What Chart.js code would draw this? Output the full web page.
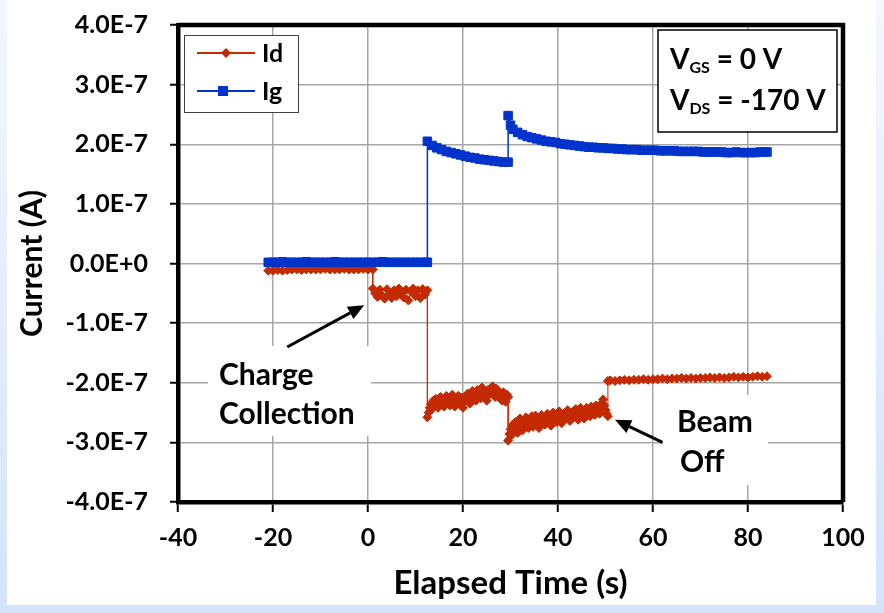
<!DOCTYPE html>
<html>
<head>
<meta charset="utf-8">
<script src="https://cdn.jsdelivr.net/npm/chart.js@4.4.0/dist/chart.umd.min.js"></script>
<style>
  html, body { margin: 0; padding: 0; }
  body { width: 884px; height: 613px; position: relative; overflow: hidden;
         background: linear-gradient(#f4f7fc, #d2e3fb); }
  #wrap { position: absolute; left: 7px; top: 0; width: 869px; height: 605px; background: #fff; }
</style>
</head>
<body>
<div id="wrap"><canvas id="myChart" width="869" height="605"></canvas></div>
<script>
const fam = 'Lato, "Open Sans", sans-serif';
const idColor = '#c42a02';
const igColor = '#0033cc';

const xTicks = [-40, -20, 0, 20, 40, 60, 80, 100];
const yTicks = [-4e-7, -3e-7, -2e-7, -1e-7, 0, 1e-7, 2e-7, 3e-7, 4e-7];
const yTickLabels = ['-4.0E-7', '-3.0E-7', '-2.0E-7', '-1.0E-7', '0.0E+0', '1.0E-7', '2.0E-7', '3.0E-7', '4.0E-7'];

// Id (drain current)
const idTime = [
  -21, -20, -19, -18, -17, -16, -15, -14, -13, -12, -11, -10, -9, -8, -7, -6, -5, -4, -3, -2, -1, 0, 1,
  1, 1.5, 2, 2.5, 3, 3.5, 4, 4.5, 5, 5.5, 6, 6.5, 7, 7.5, 8, 8.5, 9, 9.5, 10, 10.5, 11, 11.5, 12, 12.5,
  12.5, 12.75, 13, 13.25, 13.5, 13.75, 14, 14.25, 14.5, 14.75, 15, 15.25, 15.5, 15.75, 16, 16.25, 16.5,
  16.75, 17, 17.25, 17.5, 17.75, 18, 18.25, 18.5, 18.75, 19, 19.25, 19.5, 19.75, 20, 20.25, 20.5, 20.75,
  21, 21.25, 21.5, 21.75, 22, 22.25, 22.5, 22.75, 23, 23.25, 23.5, 23.75, 24, 24.25, 24.5, 24.75, 25,
  25.25, 25.5, 25.75, 26, 26.25, 26.5, 26.75, 27, 27.25, 27.5, 27.75, 28, 28.25, 28.5, 28.75, 29, 29.25, 29.5,
  29.5, 29.75, 30, 30.25, 30.5, 30.75, 31, 31.25, 31.5, 31.75, 32, 32.25, 32.5, 32.75, 33, 33.25, 33.5,
  33.75, 34, 34.25, 34.5, 34.75, 35, 35.25, 35.5, 35.75, 36, 36.25, 36.5, 36.75, 37, 37.25, 37.5, 37.75,
  38, 38.25, 38.5, 38.75, 39, 39.25, 39.5, 39.75, 40, 40.25, 40.5, 40.75, 41, 41.25, 41.5, 41.75, 42,
  42.25, 42.5, 42.75, 43, 43.25, 43.5, 43.75, 44, 44.25, 44.5, 44.75, 45, 45.25, 45.5, 45.75, 46, 46.25,
  46.5, 46.75, 47, 47.25, 47.5, 47.75, 48, 48.25, 48.5, 48.75, 49, 49.25, 49.5, 49.75, 50, 50.25, 50.5,
  50.5, 51, 52, 53, 54, 55, 56, 57, 58, 59, 60, 61, 62, 63, 64, 65, 66, 67, 68, 69, 70, 71, 72, 73, 74,
  75, 76, 77, 78, 79, 80, 81, 82, 83, 84
];
const idCurrent = [
  -0.12e-7, -0.12e-7, -0.11e-7, -0.12e-7, -0.11e-7, -0.10e-7, -0.10e-7, -0.11e-7, -0.10e-7, -0.10e-7,
  -0.10e-7, -0.10e-7, -0.09e-7, -0.10e-7, -0.10e-7, -0.10e-7, -0.09e-7, -0.10e-7, -0.10e-7, -0.10e-7,
  -0.09e-7, -0.10e-7, -0.10e-7,
  -0.42e-7, -0.50e-7, -0.56e-7, -0.44e-7, -0.54e-7, -0.59e-7, -0.43e-7, -0.51e-7, -0.58e-7, -0.45e-7,
  -0.55e-7, -0.42e-7, -0.50e-7, -0.57e-7, -0.44e-7, -0.62e-7, -0.47e-7, -0.42e-7, -0.55e-7, -0.45e-7,
  -0.58e-7, -0.43e-7, -0.52e-7, -0.45e-7,
  -2.58e-7, -2.50e-7,
  -2.42e-7, -2.36e-7, -2.44e-7, -2.30e-7, -2.38e-7, -2.27e-7, -2.35e-7, -2.42e-7,
  -2.30e-7, -2.24e-7, -2.36e-7, -2.28e-7, -2.40e-7, -2.32e-7, -2.22e-7, -2.34e-7,
  -2.26e-7, -2.38e-7, -2.30e-7, -2.20e-7, -2.33e-7, -2.40e-7, -2.27e-7, -2.35e-7,
  -2.22e-7, -2.30e-7, -2.38e-7, -2.25e-7, -2.42e-7, -2.32e-7, -2.24e-7, -2.30e-7,
  -2.18e-7, -2.28e-7, -2.35e-7, -2.20e-7, -2.14e-7, -2.26e-7, -2.18e-7, -2.30e-7,
  -2.12e-7, -2.22e-7, -2.16e-7, -2.26e-7, -2.08e-7, -2.20e-7, -2.14e-7, -2.24e-7,
  -2.30e-7, -2.12e-7, -2.20e-7, -2.10e-7, -2.18e-7, -2.06e-7, -2.16e-7, -2.24e-7,
  -2.10e-7, -2.20e-7, -2.14e-7, -2.26e-7, -2.18e-7, -2.30e-7, -2.16e-7, -2.24e-7,
  -2.32e-7, -2.20e-7, -2.24e-7,
  -2.97e-7, -2.86e-7,
  -2.78e-7, -2.88e-7, -2.70e-7, -2.80e-7, -2.66e-7, -2.76e-7, -2.84e-7, -2.68e-7,
  -2.60e-7, -2.72e-7, -2.80e-7, -2.64e-7, -2.70e-7, -2.58e-7, -2.66e-7, -2.76e-7,
  -2.62e-7, -2.70e-7, -2.56e-7, -2.74e-7, -2.64e-7, -2.55e-7, -2.70e-7, -2.60e-7,
  -2.76e-7, -2.62e-7, -2.54e-7, -2.66e-7, -2.58e-7, -2.70e-7, -2.60e-7, -2.52e-7,
  -2.64e-7, -2.56e-7, -2.72e-7, -2.60e-7, -2.50e-7, -2.62e-7, -2.55e-7, -2.66e-7,
  -2.58e-7, -2.48e-7, -2.60e-7, -2.68e-7, -2.54e-7, -2.62e-7, -2.50e-7, -2.58e-7,
  -2.46e-7, -2.56e-7, -2.64e-7, -2.52e-7, -2.60e-7, -2.48e-7, -2.56e-7, -2.44e-7,
  -2.52e-7, -2.62e-7, -2.50e-7, -2.42e-7, -2.55e-7, -2.47e-7, -2.60e-7, -2.50e-7,
  -2.42e-7, -2.52e-7, -2.46e-7, -2.56e-7, -2.40e-7, -2.50e-7, -2.44e-7, -2.54e-7,
  -2.38e-7, -2.48e-7, -2.42e-7, -2.52e-7, -2.40e-7, -2.34e-7, -2.28e-7, -2.38e-7,
  -2.46e-7, -2.52e-7, -2.56e-7,
  -1.97e-7, -1.96e-7, -1.97e-7, -1.96e-7, -1.95e-7, -1.96e-7, -1.95e-7, -1.95e-7, -1.94e-7, -1.95e-7,
  -1.94e-7, -1.94e-7, -1.93e-7, -1.94e-7, -1.93e-7, -1.93e-7, -1.92e-7, -1.93e-7, -1.92e-7, -1.93e-7,
  -1.92e-7, -1.92e-7, -1.91e-7, -1.92e-7, -1.91e-7, -1.92e-7, -1.91e-7, -1.90e-7, -1.91e-7, -1.90e-7,
  -1.91e-7, -1.90e-7, -1.89e-7, -1.90e-7, -1.89e-7
];

// Ig (gate current)
const igTime = [
  -21, -20, -19, -18, -17, -16, -15, -14, -13, -12, -11, -10, -9, -8, -7, -6, -5, -4, -3, -2, -1, 0,
  1, 2, 3, 4, 5, 6, 7, 8, 9, 10, 11, 12, 12.5,
  12.5, 13.5, 14.5, 15.5, 16.5, 17.5, 18.5, 19.5, 20.5, 21.5, 22.5, 23.5, 24.5, 25.5, 26.5, 27.5, 28.5, 29.5,
  29.5, 30, 30.5, 31.5, 32.5, 33.5, 34.5, 35.5, 36.5, 37.5, 38.5, 39.5, 40.5, 41.5, 42.5, 43.5, 44.5,
  45.5, 46.5, 47.5, 48.5, 49.5, 50.5, 51.5, 52.5, 53.5, 54.5, 55.5, 56.5, 57.5, 58.5, 59.5, 60.5, 61.5,
  62.5, 63.5, 64.5, 65.5, 66.5, 67.5, 68.5, 69.5, 70.5, 71.5, 72.5, 73.5, 74.5, 75.5, 76.5, 77.5, 78.5,
  79.5, 80.5, 81.5, 82.5, 83.5, 84
];
const igCurrent = [
  0.02e-7, 0.02e-7, 0.02e-7, 0.03e-7, 0.02e-7, 0.02e-7, 0.02e-7, 0.02e-7, 0.03e-7, 0.02e-7, 0.02e-7,
  0.02e-7, 0.02e-7, 0.02e-7, 0.03e-7, 0.02e-7, 0.02e-7, 0.02e-7, 0.02e-7, 0.02e-7, 0.02e-7, 0.02e-7,
  0.02e-7, 0.02e-7, 0.03e-7, 0.02e-7, 0.02e-7, 0.02e-7, 0.02e-7, 0.02e-7, 0.02e-7, 0.02e-7, 0.02e-7,
  0.02e-7, 0.02e-7,
  2.05e-7, 1.98e-7, 1.94e-7, 1.91e-7, 1.88e-7, 1.86e-7, 1.84e-7, 1.82e-7, 1.80e-7, 1.78e-7, 1.77e-7,
  1.75e-7, 1.74e-7, 1.73e-7, 1.72e-7, 1.71e-7, 1.70e-7, 1.70e-7,
  2.48e-7, 2.32e-7, 2.25e-7, 2.20e-7, 2.16e-7, 2.13e-7, 2.11e-7, 2.09e-7, 2.07e-7, 2.05e-7, 2.04e-7,
  2.03e-7, 2.01e-7, 2.00e-7, 1.99e-7, 1.98e-7, 1.97e-7, 1.96e-7, 1.95e-7, 1.95e-7, 1.94e-7, 1.94e-7,
  1.93e-7, 1.93e-7, 1.92e-7, 1.92e-7, 1.91e-7, 1.91e-7, 1.91e-7, 1.90e-7, 1.90e-7, 1.90e-7, 1.90e-7,
  1.89e-7, 1.89e-7, 1.89e-7, 1.89e-7, 1.88e-7, 1.88e-7, 1.88e-7, 1.88e-7, 1.88e-7, 1.87e-7, 1.87e-7,
  1.87e-7, 1.87e-7, 1.87e-7, 1.86e-7, 1.86e-7, 1.87e-7, 1.86e-7, 1.86e-7, 1.86e-7, 1.86e-7, 1.87e-7,
  1.87e-7, 1.87e-7
];

function toPoints(t, v) {
  return t.map((x, i) => ({ x: x, y: v[i] }));
}

function arrow(ctx, x1, y1, x2, y2) {
  const ang = Math.atan2(y2 - y1, x2 - x1);
  const len = 16, half = 7;
  const bx = x2 - len * Math.cos(ang), by = y2 - len * Math.sin(ang);
  ctx.strokeStyle = '#000';
  ctx.fillStyle = '#000';
  ctx.lineWidth = 3;
  ctx.beginPath();
  ctx.moveTo(x1, y1);
  ctx.lineTo(bx, by);
  ctx.stroke();
  ctx.beginPath();
  ctx.moveTo(x2, y2);
  ctx.lineTo(bx + half * Math.sin(ang), by - half * Math.cos(ang));
  ctx.lineTo(bx - half * Math.sin(ang), by + half * Math.cos(ang));
  ctx.closePath();
  ctx.fill();
}

// top/right frame, legend box, bias box, callouts
const decor = {
  id: 'decor',
  afterDatasetsDraw(chart) {
    const { ctx, chartArea: a, scales: { x, y } } = chart;
    ctx.save();

    // frame: top and right edges
    ctx.strokeStyle = '#000';
    ctx.lineWidth = 4.5;
    ctx.beginPath();
    ctx.moveTo(a.left, a.top);
    ctx.lineTo(a.right, a.top);
    ctx.lineTo(a.right, a.bottom);
    ctx.stroke();

    // white label boxes
    ctx.fillStyle = '#fff';
    ctx.fillRect(a.left + 30, a.top + 321, 163, 90);
    ctx.fillRect(a.left + 485, a.top + 370, 105, 90);

    ctx.fillStyle = '#000';
    ctx.textBaseline = 'middle';
    ctx.font = 'bold 30px ' + fam;
    ctx.fillText('Charge', a.left + 41, a.top + 350);
    ctx.fillText('Collection', a.left + 41, a.top + 389);
    ctx.fillText('Beam', a.left + 499, a.top + 397);
    ctx.fillText('Off', a.left + 502, a.top + 437);

    arrow(ctx, x.getPixelForValue(-17), y.getPixelForValue(-1.4e-7), x.getPixelForValue(-0.8), y.getPixelForValue(-0.7e-7));
    arrow(ctx, x.getPixelForValue(62), y.getPixelForValue(-3.0e-7), x.getPixelForValue(52), y.getPixelForValue(-2.62e-7));

    // legend
    ctx.fillStyle = '#fff';
    ctx.fillRect(a.left + 6, a.top + 10, 114, 77);
    ctx.strokeStyle = '#404040';
    ctx.lineWidth = 1;
    ctx.strokeRect(a.left + 6.5, a.top + 10.5, 114, 77);

    ctx.lineWidth = 2;
    ctx.strokeStyle = idColor;
    ctx.beginPath();
    ctx.moveTo(a.left + 19, a.top + 28);
    ctx.lineTo(a.left + 77, a.top + 28);
    ctx.stroke();
    ctx.fillStyle = idColor;
    ctx.beginPath();
    ctx.moveTo(a.left + 48, a.top + 23);
    ctx.lineTo(a.left + 53, a.top + 28);
    ctx.lineTo(a.left + 48, a.top + 33);
    ctx.lineTo(a.left + 43, a.top + 28);
    ctx.closePath();
    ctx.fill();

    ctx.strokeStyle = igColor;
    ctx.beginPath();
    ctx.moveTo(a.left + 19, a.top + 66);
    ctx.lineTo(a.left + 77, a.top + 66);
    ctx.stroke();
    ctx.fillStyle = igColor;
    ctx.fillRect(a.left + 40, a.top + 61, 10, 10);

    ctx.fillStyle = '#000';
    ctx.font = 'bold 25px ' + fam;
    ctx.fillText('Id', a.left + 84, a.top + 29);
    ctx.fillText('Ig', a.left + 84, a.top + 67);

    // bias conditions
    ctx.fillStyle = '#fff';
    ctx.fillRect(a.right - 185, a.top + 5, 179, 102);
    ctx.strokeStyle = '#000';
    ctx.lineWidth = 1.5;
    ctx.strokeRect(a.right - 185, a.top + 5, 179, 102);

    const lines = [['GS', ' = 0 V', 35], ['DS', ' = -170 V', 76]];
    ctx.fillStyle = '#000';
    lines.forEach(l => {
      let px = a.right - 173;
      const py = a.top + l[2];
      ctx.font = 'bold 28px ' + fam;
      ctx.fillText('V', px, py);
      px += ctx.measureText('V').width;
      ctx.font = 'bold 16px ' + fam;
      ctx.fillText(l[0], px, py + 8);
      px += ctx.measureText(l[0]).width;
      ctx.font = 'bold 28px ' + fam;
      ctx.fillText(l[1], px, py);
    });
    ctx.restore();
  }
};

const tickFont = { family: fam, size: 25, weight: 'bold' };
const axisBorder = { color: '#000', width: 4.5 };

const ctx = document.getElementById('myChart').getContext('2d');
const myChart = new Chart(ctx, {
  type: 'scatter',
  data: {
    datasets: [{
      label: 'Id',
      data: toPoints(idTime, idCurrent),
      showLine: true,
      borderColor: idColor,
      backgroundColor: idColor,
      borderWidth: 1,
      pointStyle: 'rectRot',
      pointRadius: 4.5,
      pointBorderWidth: 1,
      order: 2
    }, {
      label: 'Ig',
      data: toPoints(igTime, igCurrent),
      showLine: true,
      borderColor: igColor,
      backgroundColor: igColor,
      borderWidth: 1.5,
      pointStyle: 'rect',
      pointRadius: 6,
      pointBorderWidth: 1,
      order: 1
    }]
  },
  options: {
    responsive: false,
    animation: false,
    devicePixelRatio: 1,
    layout: { padding: { top: 25, right: 33, left: 0, bottom: 0 } },
    plugins: { legend: { display: false }, tooltip: { enabled: false } },
    scales: {
      x: {
        type: 'linear', position: 'bottom', min: -40, max: 100,
        afterBuildTicks: s => { s.ticks = xTicks.map(v => ({ value: v })); },
        afterFit: s => { s.height = 103; },
        grid: { color: '#a6a6a6', lineWidth: 1.5, tickColor: '#000', tickLength: 10, tickWidth: 2 },
        border: axisBorder,
        ticks: { color: '#000', font: tickFont, padding: 11, maxRotation: 0, autoSkip: false },
        title: { display: true, text: 'Elapsed Time (s)', color: '#000', font: { family: fam, size: 33, weight: 'bold' }, padding: { top: 0, bottom: 2 } }
      },
      y: {
        type: 'linear', position: 'left', min: -4e-7, max: 4e-7,
        afterBuildTicks: s => { s.ticks = yTicks.map(v => ({ value: v })); },
        // label padding would otherwise push the plot down; keep only half a label
        afterFit: s => { s.width = 171; s.paddingTop = 15; s.paddingBottom = 15; },
        grid: { color: '#a6a6a6', lineWidth: 1.5, tickColor: '#000', tickLength: 8, tickWidth: 2 },
        border: axisBorder,
        ticks: { color: '#000', font: tickFont, padding: 22, autoSkip: false, callback: (v, i) => yTickLabels[i] },
        title: { display: true, text: 'Current (A)', color: '#000', font: { family: fam, size: 30, weight: 'bold' }, padding: { top: 7, bottom: 0 } }
      }
    }
  },
  plugins: [decor]
});
</script>
</body>
</html>
